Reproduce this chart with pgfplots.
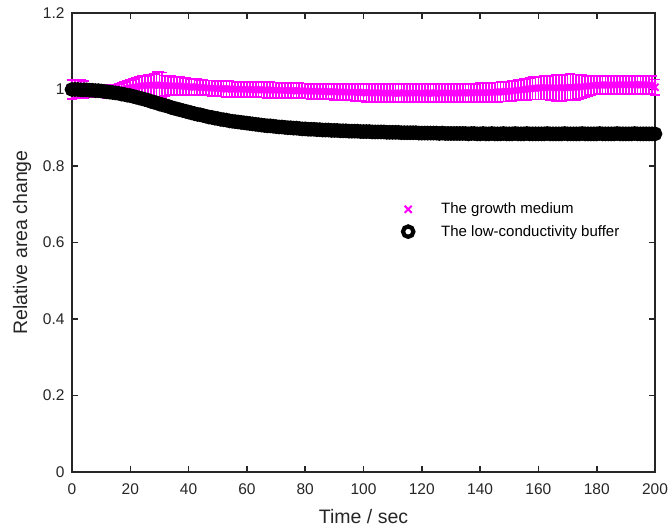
\documentclass[border=0pt]{standalone}
\usepackage{fontspec}
\setmainfont{Liberation Sans}
\usepackage{pgfplots}
\pgfplotsset{compat=1.18}
\usepackage{pgfplotstable}
\definecolor{axgray}{HTML}{262626}
\definecolor{mag}{HTML}{FF00FF}

% growth medium: time, mean, error
\pgfplotstableread[row sep=\\]{
t y e\\
0 1.000 0.025\\ 1 1.001 0.025\\ 2 1.002 0.024\\ 3 1.001 0.024\\ 4 1.000 0.022\\
5 0.998 0.018\\ 6 0.996 0.017\\ 7 0.995 0.016\\ 8 0.995 0.016\\ 9 0.994 0.015\\
10 0.994 0.015\\ 11 0.995 0.015\\ 12 0.994 0.016\\ 13 0.995 0.016\\ 14 0.996 0.015\\
15 0.997 0.016\\ 16 0.998 0.016\\ 17 1.000 0.017\\ 18 1.001 0.018\\ 19 1.003 0.020\\
20 1.004 0.021\\ 21 1.006 0.022\\ 22 1.007 0.024\\ 23 1.009 0.025\\ 24 1.010 0.026\\
25 1.010 0.026\\ 26 1.011 0.027\\ 27 1.011 0.028\\ 28 1.011 0.030\\ 29 1.012 0.034\\
30 1.011 0.034\\ 31 1.011 0.033\\ 32 1.010 0.027\\ 33 1.010 0.026\\ 34 1.010 0.025\\
35 1.009 0.024\\ 36 1.010 0.024\\ 37 1.009 0.023\\ 38 1.008 0.023\\ 39 1.008 0.022\\
40 1.007 0.022\\ 41 1.007 0.021\\ 42 1.006 0.021\\ 43 1.006 0.021\\ 44 1.005 0.020\\
45 1.005 0.020\\ 46 1.004 0.020\\ 47 1.004 0.020\\ 48 1.003 0.020\\ 49 1.003 0.020\\
50 1.002 0.020\\ 51 1.002 0.020\\ 52 1.002 0.020\\ 53 1.001 0.020\\ 54 1.002 0.020\\
55 1.001 0.020\\ 56 1.001 0.020\\ 57 1.000 0.020\\ 58 1.001 0.020\\ 59 1.000 0.020\\
60 1.000 0.020\\ 61 1.000 0.020\\ 62 0.999 0.020\\ 63 1.000 0.020\\ 64 0.999 0.020\\
65 0.999 0.020\\ 66 0.999 0.020\\ 67 0.998 0.020\\ 68 0.999 0.020\\ 69 0.998 0.020\\
70 0.998 0.020\\ 71 0.998 0.020\\ 72 0.997 0.020\\ 73 0.998 0.020\\ 74 0.997 0.020\\
75 0.997 0.020\\ 76 0.997 0.020\\ 77 0.996 0.020\\ 78 0.997 0.020\\ 79 0.996 0.020\\
80 0.996 0.020\\ 81 0.996 0.020\\ 82 0.995 0.020\\ 83 0.996 0.020\\ 84 0.995 0.020\\
85 0.995 0.020\\ 86 0.995 0.020\\ 87 0.994 0.020\\ 88 0.995 0.020\\ 89 0.994 0.020\\
90 0.994 0.021\\ 91 0.994 0.021\\ 92 0.993 0.021\\ 93 0.994 0.021\\ 94 0.993 0.021\\
95 0.993 0.022\\ 96 0.993 0.022\\ 97 0.992 0.022\\ 98 0.993 0.022\\ 99 0.992 0.022\\
100 0.992 0.023\\ 101 0.991 0.023\\ 102 0.992 0.023\\ 103 0.991 0.023\\ 104 0.991 0.023\\
105 0.992 0.023\\ 106 0.991 0.023\\ 107 0.990 0.023\\ 108 0.991 0.023\\ 109 0.991 0.023\\
110 0.990 0.023\\ 111 0.991 0.023\\ 112 0.991 0.023\\ 113 0.990 0.023\\ 114 0.991 0.023\\
115 0.991 0.023\\ 116 0.990 0.023\\ 117 0.991 0.023\\ 118 0.991 0.023\\ 119 0.990 0.023\\
120 0.991 0.023\\ 121 0.991 0.023\\ 122 0.990 0.023\\ 123 0.991 0.023\\ 124 0.991 0.023\\
125 0.991 0.023\\ 126 0.990 0.023\\ 127 0.991 0.023\\ 128 0.991 0.023\\ 129 0.991 0.023\\
130 0.991 0.024\\ 131 0.990 0.024\\ 132 0.991 0.024\\ 133 0.991 0.024\\ 134 0.992 0.024\\
135 0.991 0.024\\ 136 0.991 0.024\\ 137 0.992 0.024\\ 138 0.991 0.024\\ 139 0.992 0.024\\
140 0.992 0.025\\ 141 0.991 0.025\\ 142 0.992 0.025\\ 143 0.992 0.025\\ 144 0.993 0.025\\
145 0.993 0.025\\ 146 0.993 0.025\\ 147 0.994 0.025\\ 148 0.994 0.025\\ 149 0.995 0.026\\
150 0.995 0.026\\ 151 0.996 0.026\\ 152 0.997 0.026\\ 153 0.998 0.027\\ 154 0.999 0.027\\
155 1.000 0.027\\ 156 1.001 0.028\\ 157 1.002 0.028\\ 158 1.003 0.029\\ 159 1.003 0.029\\
160 1.004 0.030\\ 161 1.004 0.030\\ 162 1.005 0.031\\ 163 1.005 0.031\\ 164 1.005 0.032\\
165 1.004 0.033\\ 166 1.004 0.034\\ 167 1.005 0.034\\ 168 1.004 0.034\\ 169 1.005 0.034\\
170 1.005 0.034\\ 171 1.006 0.034\\ 172 1.005 0.034\\ 173 1.006 0.033\\ 174 1.007 0.032\\
175 1.007 0.031\\ 176 1.008 0.029\\ 177 1.009 0.027\\ 178 1.010 0.025\\ 179 1.011 0.024\\
180 1.011 0.024\\ 181 1.012 0.024\\ 182 1.011 0.024\\ 183 1.012 0.024\\ 184 1.012 0.024\\
185 1.011 0.024\\ 186 1.012 0.024\\ 187 1.012 0.024\\ 188 1.013 0.024\\ 189 1.012 0.024\\
190 1.012 0.024\\ 191 1.013 0.024\\ 192 1.012 0.024\\ 193 1.013 0.024\\ 194 1.012 0.024\\
195 1.012 0.024\\ 196 1.013 0.024\\ 197 1.012 0.024\\ 198 1.012 0.024\\ 199 1.011 0.024\\
200 1.006 0.020\\
}\growth

% low-conductivity buffer: time, mean
\pgfplotstableread[row sep=\\]{
t y\\
0 1.000\\ 1 1.000\\ 2 1.000\\ 3 0.999\\ 4 0.999\\ 5 0.999\\ 6 0.998\\ 7 0.998\\ 8 0.997\\ 9 0.997\\
10 0.996\\ 11 0.995\\ 12 0.994\\ 13 0.993\\ 14 0.992\\ 15 0.991\\ 16 0.990\\ 17 0.988\\ 18 0.987\\ 19 0.985\\
20 0.984\\ 21 0.982\\ 22 0.980\\ 23 0.978\\ 24 0.976\\ 25 0.974\\ 26 0.972\\ 27 0.969\\ 28 0.967\\ 29 0.965\\
30 0.962\\ 31 0.960\\ 32 0.958\\ 33 0.956\\ 34 0.953\\ 35 0.951\\ 36 0.949\\ 37 0.947\\ 38 0.945\\ 39 0.943\\
40 0.941\\ 41 0.939\\ 42 0.937\\ 43 0.935\\ 44 0.934\\ 45 0.932\\ 46 0.930\\ 47 0.928\\ 48 0.927\\ 49 0.925\\
50 0.924\\ 51 0.922\\ 52 0.921\\ 53 0.920\\ 54 0.918\\ 55 0.917\\ 56 0.916\\ 57 0.915\\ 58 0.914\\ 59 0.913\\
60 0.912\\ 61 0.911\\ 62 0.910\\ 63 0.909\\ 64 0.908\\ 65 0.907\\ 66 0.906\\ 67 0.905\\ 68 0.905\\ 69 0.904\\
70 0.903\\ 71 0.902\\ 72 0.902\\ 73 0.901\\ 74 0.900\\ 75 0.900\\ 76 0.899\\ 77 0.899\\ 78 0.898\\ 79 0.897\\
80 0.897\\ 81 0.896\\ 82 0.896\\ 83 0.896\\ 84 0.895\\ 85 0.895\\ 86 0.894\\ 87 0.894\\ 88 0.894\\ 89 0.893\\
90 0.893\\ 91 0.893\\ 92 0.892\\ 93 0.892\\ 94 0.892\\ 95 0.891\\ 96 0.891\\ 97 0.891\\ 98 0.891\\ 99 0.890\\
100 0.890\\ 101 0.890\\ 102 0.890\\ 103 0.889\\ 104 0.889\\ 105 0.889\\ 106 0.889\\ 107 0.889\\ 108 0.888\\ 109 0.888\\
110 0.888\\ 111 0.888\\ 112 0.888\\ 113 0.887\\ 114 0.887\\ 115 0.887\\ 116 0.887\\ 117 0.887\\ 118 0.887\\ 119 0.886\\
120 0.886\\ 121 0.886\\ 122 0.886\\ 123 0.886\\ 124 0.886\\ 125 0.886\\ 126 0.885\\ 127 0.886\\ 128 0.885\\ 129 0.885\\
130 0.885\\ 131 0.885\\ 132 0.885\\ 133 0.885\\ 134 0.885\\ 135 0.885\\ 136 0.884\\ 137 0.885\\ 138 0.885\\ 139 0.884\\
140 0.884\\ 141 0.885\\ 142 0.884\\ 143 0.884\\ 144 0.885\\ 145 0.884\\ 146 0.884\\ 147 0.884\\ 148 0.885\\ 149 0.884\\
150 0.884\\ 151 0.884\\ 152 0.885\\ 153 0.884\\ 154 0.884\\ 155 0.884\\ 156 0.885\\ 157 0.884\\ 158 0.884\\ 159 0.884\\
160 0.884\\ 161 0.884\\ 162 0.884\\ 163 0.885\\ 164 0.884\\ 165 0.884\\ 166 0.884\\ 167 0.884\\ 168 0.884\\ 169 0.885\\
170 0.884\\ 171 0.884\\ 172 0.884\\ 173 0.884\\ 174 0.884\\ 175 0.885\\ 176 0.884\\ 177 0.884\\ 178 0.884\\ 179 0.884\\
180 0.884\\ 181 0.885\\ 182 0.884\\ 183 0.884\\ 184 0.884\\ 185 0.884\\ 186 0.884\\ 187 0.885\\ 188 0.884\\ 189 0.884\\
190 0.884\\ 191 0.884\\ 192 0.884\\ 193 0.885\\ 194 0.884\\ 195 0.884\\ 196 0.884\\ 197 0.884\\ 198 0.884\\ 199 0.884\\
200 0.884\\
}\buffer

\begin{document}
\begin{tikzpicture}
\begin{axis}[
    scale only axis,
    width=583pt, height=459pt,
    xmin=0, xmax=200, ymin=0, ymax=1.2,
    xtick={0,20,40,60,80,100,120,140,160,180,200},
    ytick={0,0.2,0.4,0.6,0.8,1,1.2},
    tick align=inside,
    major tick length=6pt,
    axis line style={axgray, line width=1.6pt},
    every tick/.style={axgray, line width=1.6pt},
    /pgf/number format/assume math mode=true,
    tick label style={font=\fontsize{15.5}{18}\selectfont, text=axgray},
    xticklabel style={yshift=-8pt},
    yticklabel style={xshift=-4pt, /pgf/number format/fixed},
    xlabel={Time / sec},
    ylabel={Relative area change},
    every axis x label/.style={at={(axis description cs:0.5,-0.098)}, anchor=center,
        font=\fontsize{19.5}{22}\selectfont, text=axgray},
    every axis y label/.style={at={(axis description cs:-0.0858,0.5)}, anchor=center, rotate=90,
        font=\fontsize{19.5}{22}\selectfont, text=axgray},
    clip=false,
    legend cell align=left,
    legend style={at={(0.566,0.548)}, anchor=west, draw=none, fill=none,
                  font=\fontsize{15}{18}\selectfont, row sep=10pt, inner sep=0pt,
                  nodes={inner sep=0pt, text=black}},
    legend image code/.code={
        \draw[#1] plot coordinates {(0pt,0pt)};
        \path[draw=none, fill=none] (-6pt,-6pt) rectangle (33pt,6pt);
    },
]
\addplot[only marks, mag, mark=x, mark size=5pt, line width=2pt,
    error bars/.cd, y dir=both, y explicit,
    error bar style={mag, line width=1.8pt},
    error mark options={rotate=90, mag, line width=1.6pt, mark size=5pt}]
    table[x=t, y=y, y error=e] {\growth};
\addlegendentry{The growth medium}
\addplot[only marks, black, mark=o, mark size=5.2pt, line width=4.2pt]
    table[x=t, y=y] {\buffer};
\addlegendentry{The low-conductivity buffer}
\end{axis}
\pgfresetboundingbox
\path[use as bounding box] (-72pt,-57pt) rectangle (596pt,472pt);
\end{tikzpicture}
\end{document}
